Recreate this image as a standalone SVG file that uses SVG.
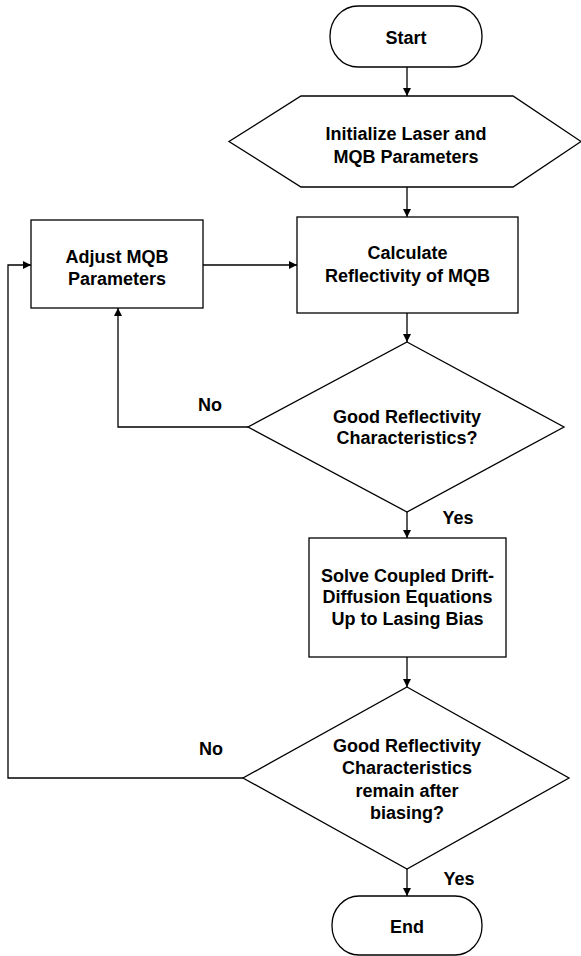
<svg xmlns="http://www.w3.org/2000/svg" width="581" height="956" viewBox="0 0 581 956">
<style>
  .shape { fill: #ffffff; stroke: #000000; stroke-width: 1.3; }
  .conn { fill: none; stroke: #000000; stroke-width: 1.3; }
  text { font-family: "Liberation Sans", Arial, sans-serif; font-weight: bold; font-size: 18px; fill: #000000; text-anchor: middle; }
</style>
<defs>
  <marker id="arrow" markerWidth="8" markerHeight="8" refX="8" refY="4" orient="auto" markerUnits="userSpaceOnUse">
    <path d="M0,0 L8,4 L0,8 Z" fill="#000000"/>
  </marker>
</defs>
<rect width="581" height="956" fill="#ffffff"/>

<g id="connectors">
  <line class="conn" x1="407" y1="67" x2="407" y2="96" marker-end="url(#arrow)"/>
  <line class="conn" x1="407" y1="187" x2="407" y2="217" marker-end="url(#arrow)"/>
  <line class="conn" x1="407" y1="313" x2="407" y2="342" marker-end="url(#arrow)"/>
  <line class="conn" x1="407" y1="512" x2="407" y2="538" marker-end="url(#arrow)"/>
  <line class="conn" x1="407" y1="657" x2="407" y2="687" marker-end="url(#arrow)"/>
  <line class="conn" x1="407" y1="869" x2="407" y2="896" marker-end="url(#arrow)"/>
  <polyline class="conn" points="248,427 118,427 118,308" marker-end="url(#arrow)"/>
  <line class="conn" x1="203" y1="265" x2="297" y2="265" marker-end="url(#arrow)"/>
  <polyline class="conn" points="243,778 8,778 8,265 31,265" marker-end="url(#arrow)"/>
  <text x="210" y="411">No</text>
  <text x="458" y="524">Yes</text>
  <text x="211" y="755">No</text>
  <text x="459" y="885">Yes</text>
</g>

<g id="start">
  <rect class="shape" x="330" y="6" width="152" height="61" rx="28" ry="30"/>
  <text x="406" y="44">Start</text>
</g>

<g id="init">
  <polygon class="shape" points="301,96 513,96 581,141.5 513,187 301,187 229,141.5"/>
  <text x="406" y="139.5">Initialize Laser and</text>
  <text x="406" y="163">MQB Parameters</text>
</g>

<g id="calc">
  <rect class="shape" x="297" y="217" width="221" height="96"/>
  <text x="407.5" y="259">Calculate</text>
  <text x="407.5" y="282">Reflectivity of MQB</text>
</g>

<g id="adjust">
  <rect class="shape" x="31" y="220" width="172" height="88"/>
  <text x="117" y="263">Adjust MQB</text>
  <text x="117" y="285">Parameters</text>
</g>

<g id="decision1">
  <polygon class="shape" points="407,342 564,427 407,512 248,427"/>
  <text x="407" y="423">Good Reflectivity</text>
  <text x="407" y="444">Characteristics?</text>
</g>

<g id="solve">
  <rect class="shape" x="309" y="538" width="197" height="119"/>
  <text x="407.5" y="582">Solve Coupled Drift-</text>
  <text x="407.5" y="603">Diffusion Equations</text>
  <text x="407.5" y="625">Up to Lasing Bias</text>
</g>

<g id="decision2">
  <polygon class="shape" points="407,687 569,778 407,869 243,778"/>
  <text x="407" y="752">Good Reflectivity</text>
  <text x="407" y="774">Characteristics</text>
  <text x="407" y="797">remain after</text>
  <text x="407" y="819">biasing?</text>
</g>

<g id="end">
  <rect class="shape" x="332" y="896" width="150" height="59" rx="27" ry="29"/>
  <text x="407" y="933">End</text>
</g>
</svg>
